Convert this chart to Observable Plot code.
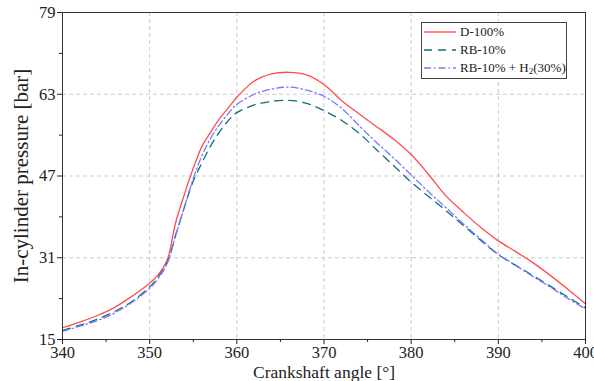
<!DOCTYPE html>
<html>
<head>
<meta charset="utf-8">
<script src="https://cdn.jsdelivr.net/npm/d3@7"></script>
<script src="https://cdn.jsdelivr.net/npm/@observablehq/plot@0.6"></script>
<style>
  html, body { margin: 0; padding: 0; background: #fff; }
  #wrap { position: relative; width: 594px; height: 381px; font-family: "Liberation Serif", "Times New Roman", serif; }
  #legend { position: absolute; left: 421px; top: 22px; width: 144px; height: 55px; border: 1.2px solid #444; background: #fff; font-size: 13px; color: #222; }
  #legend .row { display: flex; align-items: center; height: 18px; }
  #legend svg { margin-left: 2px; margin-right: 4px; }
  #legend sub { font-size: 9px; vertical-align: -2px; }
</style>
</head>
<body>
<div id="wrap"><div id="chart"></div><div id="legend"></div></div>
<script>
const angles = [340, 342, 344, 346, 348, 350, 351, 352, 353, 354, 355, 356, 357, 358, 359, 360, 362, 364, 366, 368, 370, 372, 374, 376, 378, 380, 382, 384, 386, 388, 390, 392, 394, 396, 398, 400];
const d100 = [17.3, 18.4, 19.7, 21.3, 23.5, 26.0, 27.7, 30.5, 38.0, 43.5, 48.5, 52.8, 55.6, 58.2, 60.3, 62.4, 65.6, 67.0, 67.3, 66.8, 64.9, 61.8, 59.2, 56.7, 54.2, 51.2, 47.3, 43.1, 39.9, 36.9, 34.3, 32.2, 30.0, 27.5, 24.8, 22.0];
const rb10 = [16.8, 17.8, 19.0, 20.5, 22.5, 25.3, 27.3, 30.0, 35.5, 41.0, 46.0, 49.6, 52.9, 55.6, 57.8, 59.4, 60.9, 61.6, 61.8, 61.2, 59.8, 57.9, 55.4, 52.2, 49.0, 45.8, 43.0, 40.2, 37.3, 34.4, 31.6, 29.5, 27.5, 25.4, 23.3, 21.2];
const rb10h2 = [16.6, 17.6, 18.7, 20.2, 22.3, 25.0, 27.0, 29.8, 35.5, 41.0, 46.5, 51.0, 54.4, 57.0, 59.2, 61.0, 63.0, 64.0, 64.4, 63.8, 62.6, 60.3, 56.9, 53.6, 50.5, 47.2, 43.9, 40.8, 37.6, 34.6, 31.7, 29.5, 27.3, 25.2, 23.0, 21.0];

const seriesNames = ["D-100%", "RB-10%", "RB-10% + H2(30%)"];
const seriesColors = ["#ff4d4d", "#0e6e7c", "#7878ff"];
const seriesDash = [null, "8,6", "7,3,1.5,3"];

const xTicks = [340, 350, 360, 370, 380, 390, 400];
const xMinor = [345, 355, 365, 375, 385, 395];
const yTicks = [15, 31, 47, 63, 79];
const yMinor = [23, 39, 55, 71];

const allSeries = [d100, rb10, rb10h2];
const data = allSeries.map((vals, i) => angles.map((a, j) => ({angle: a, p: vals[j], s: seriesNames[i]})));

const font = "'Liberation Serif', 'Times New Roman', serif";

const chart = Plot.plot({
  width: 594,
  height: 381,
  marginLeft: 62,
  marginRight: 9,
  marginTop: 12,
  marginBottom: 42,
  style: {fontSize: "16px", color: "#222", background: "#fff"},
  x: {domain: [340, 400]},
  y: {domain: [15, 79]},
  marks: [
    Plot.gridX(xTicks.slice(1, -1), {stroke: "#bbb", strokeOpacity: 1, strokeDasharray: "4,3", strokeWidth: 0.8}),
    Plot.gridY(yTicks.slice(1, -1), {stroke: "#bbb", strokeOpacity: 1, strokeDasharray: "4,3", strokeWidth: 0.8}),
    ...data.map((d, i) => Plot.line(d, {
      x: "angle", y: "p", stroke: seriesColors[i], strokeWidth: 1.3,
      strokeDasharray: seriesDash[i] || undefined, curve: "catmull-rom"
    })),
    Plot.frame({stroke: "#333", strokeWidth: 1}),
    Plot.axisX({ticks: xTicks, tickSize: 5, tickPadding: 2, label: null, fontSize: 16.5}),
    Plot.axisX({ticks: xMinor, tickSize: 3, tickFormat: () => "", label: null}),
    Plot.axisY({ticks: yTicks, tickSize: 5, tickPadding: 2, label: null, fontSize: 16.5}),
    Plot.axisY({ticks: yMinor, tickSize: 3, tickFormat: () => "", label: null}),
    Plot.text(["Crankshaft angle [°]"], {frameAnchor: "bottom", dy: 33, lineAnchor: "middle", textAnchor: "middle", fontSize: 17.5, fill: "#222"}),
    Plot.text(["In-cylinder pressure [bar]"], {frameAnchor: "left", dx: -41, textAnchor: "middle", lineAnchor: "middle", rotate: -90, fontSize: 21, fill: "#222"})
  ]
});
d3.select(chart).style("font-family", font, "important");
d3.select(chart).selectAll("text").style("font-family", font, "important");
document.getElementById("chart").appendChild(chart);

// legend
const legend = d3.select("#legend");
seriesNames.forEach((name, i) => {
  const row = legend.append("div").attr("class", "row");
  const svg = row.append("svg").attr("width", 32).attr("height", 10);
  svg.append("line").attr("x1", 0).attr("x2", 32).attr("y1", 5).attr("y2", 5)
    .attr("stroke", seriesColors[i]).attr("stroke-width", 1.4)
    .attr("stroke-dasharray", seriesDash[i]);
  const span = row.append("span");
  if (name.includes("H2")) {
    const [a, b] = name.split("H2");
    span.html(a + "H<sub>2</sub>" + b);
  } else span.text(name);
});
</script>
</body>
</html>
